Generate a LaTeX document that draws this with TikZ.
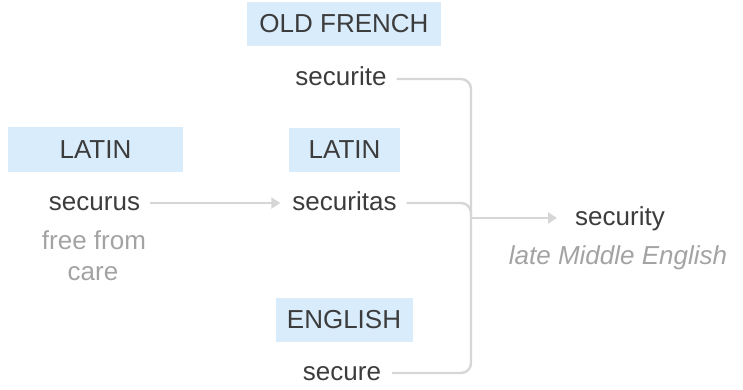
\documentclass[tikz,border=0pt]{standalone}
\usepackage{fontspec}
\setmainfont{Liberation Sans}
\usetikzlibrary{arrows.meta}
\definecolor{langfill}{HTML}{D8ECFC}
\definecolor{inkdark}{HTML}{3C3C3C}
\definecolor{inkgray}{HTML}{A3A3A3}
\definecolor{linkgray}{HTML}{D6D6D6}
\begin{document}
\begin{tikzpicture}[x=1pt,y=-1pt,
  every node/.style={font=\fontsize{26}{30}\selectfont},
  langbox/.style={fill=langfill,text=inkdark,inner sep=0pt,anchor=center},
  word/.style={text=inkdark,inner sep=0pt,anchor=base},
  gloss/.style={text=inkgray,inner sep=0pt,anchor=base},
  link/.style={draw=linkgray,line width=2.4pt,rounded corners=10pt},
  tip/.style={-{Triangle[length=9pt,width=11pt]}}]
\useasboundingbox (0,0) rectangle (743,390);

% language labels
\node[langbox,minimum width=194pt,minimum height=44pt] (oldfrench) at (344,24) {OLD FRENCH};
\node[langbox,minimum width=175pt,minimum height=45pt] (latinA) at (95.5,149.5) {LATIN};
\node[langbox,minimum width=111pt,minimum height=44pt] (latinB) at (344.5,150) {LATIN};
\node[langbox,minimum width=137pt,minimum height=44pt] (english) at (344,320) {ENGLISH};

% word forms (baselines sit half an x-height below each connector)
\node[word] (securite) at (341,86) {securite};
\node[word] (securus) at (94.5,210) {securus};
\node[word] (securitas) at (344.5,210) {securitas};
\node[word] (secure) at (342,380) {secure};
\node[word] (security) at (620,225) {security};

% glosses
\node[gloss] (free) at (94,249) {free from};
\node[gloss] (care) at (93,280) {care};
\node[gloss,font=\fontsize{26}{30}\selectfont\itshape] (period) at (618,264) {late Middle English};

% connector ends at x-height middle of each word
\coordinate (securiteR) at ([yshift=7pt]securite.base east);
\coordinate (securusR) at ([yshift=7pt]securus.base east);
\coordinate (securitasL) at ([yshift=7pt]securitas.base west);
\coordinate (securitasR) at ([yshift=7pt]securitas.base east);
\coordinate (secureR) at ([yshift=7pt]secure.base east);
\coordinate (securityL) at ([yshift=7pt]security.base west);

% junction of the branches
\coordinate (join) at (471,218);

% connectors
\draw[link,tip,shorten <=10pt,shorten >=12pt] (securusR) -- (securitasL);
\draw[link,shorten <=10pt] (securiteR) -| (join) |- ([xshift=11pt]secureR);
\draw[link,shorten <=10pt] (securitasR) -| (join);
\draw[link,tip,shorten >=18pt] (join) -- (securityL);
\end{tikzpicture}
\end{document}
